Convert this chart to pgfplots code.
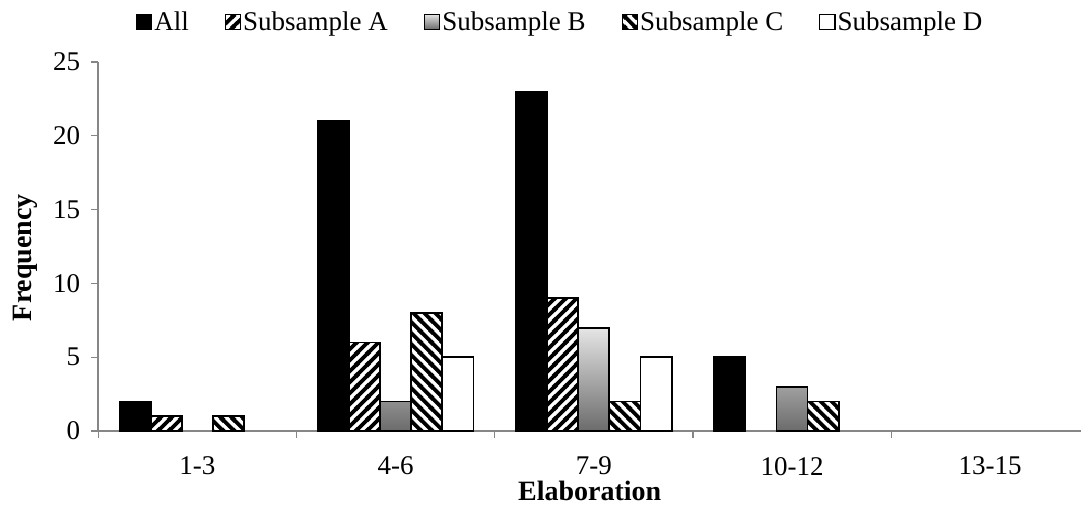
\documentclass[border=0pt]{standalone}
\usepackage{fontspec}
\setmainfont{Liberation Serif}
\usepackage{pgfplots}
\pgfplotsset{compat=1.18}
\usetikzlibrary{patterns.meta}

% thick diagonal hatching, rising and falling
\tikzdeclarepattern{
  name=wideNE, type=uncolored,
  bottom left={(0pt,0pt)}, top right={(5.3pt,5.3pt)},
  tile size={(5.3pt,5.3pt)},
  code={\draw[line width=1.9pt] (-1pt,-1pt)--(6.3pt,6.3pt)
        (-1pt,4.3pt)--(1pt,6.3pt) (4.3pt,-1pt)--(6.3pt,1pt);}
}
\tikzdeclarepattern{
  name=wideNW, type=uncolored,
  bottom left={(0pt,0pt)}, top right={(5.3pt,5.3pt)},
  tile size={(5.3pt,5.3pt)},
  code={\draw[line width=1.9pt] (-1pt,6.3pt)--(6.3pt,-1pt)
        (-1pt,1pt)--(1pt,-1pt) (4.3pt,6.3pt)--(6.3pt,4.3pt);}
}

\definecolor{axisgrey}{HTML}{868686}

\begin{document}
\begin{tikzpicture}
\begin{axis}[
  scale only axis,
  width=491.35pt, height=184.5pt,
  xmin=-0.5, xmax=4.458,
  ymin=0, ymax=25,
  ytick={0,5,...,25},
  xtick={0,1,2,3,4},
  xticklabels={1-3,4-6,7-9,10-12,13-15},
  minor xtick={-0.5,0.5,1.5,2.5,3.5},
  major x tick style={draw=none},
  minor tick length=3.5pt,
  major tick length=3.5pt,
  tick align=outside,
  axis x line*=bottom,
  axis y line*=left,
  axis line style={axisgrey, line width=0.8pt, -},
  every tick/.style={axisgrey, line width=0.6pt},
  /pgf/number format/assume math mode=true,
  tick label style={font=\fontsize{13.5}{16}\selectfont, text=black},
  xticklabel style={yshift=-6pt},
  yticklabel style={xshift=-2pt},
  xlabel={\bfseries Elaboration},
  ylabel={\bfseries Frequency},
  label style={font=\fontsize{14}{16}\selectfont},
  xlabel style={at={(rel axis cs:0.5,0)}, anchor=center, yshift=-30pt},
  ylabel style={at={(rel axis cs:0,0.47)}, anchor=center, rotate=0, yshift=36.5pt},
  ybar=0pt, bar width=0.157,
  legend columns=5,
  legend style={draw=none, fill=none,
    at={(rel axis cs:0.47,1.108)}, anchor=center,
    font=\fontsize{13.5}{16}\selectfont,
    nodes={inner sep=1pt},
    /tikz/every even column/.append style={column sep=17pt}},
  legend image code/.code={\draw[#1, line width=0.6pt] (0pt,-3.6pt) rectangle (7.6pt,4pt);},
  clip=false,
]
\addplot[draw=black, fill=black, line width=0.9pt]
  coordinates {(0,2) (1,21) (2,23) (3,5)};
\addplot[draw=black, line width=0.9pt, fill=white, pattern={wideNE}, pattern color=black]
  coordinates {(0,1) (1,6) (2,9)};
\addplot[draw=black, line width=0.9pt, top color=black!10, bottom color=black!58]
  coordinates {(1,2) (2,7) (3,3)};
\addplot[draw=black, line width=0.9pt, fill=white, pattern={wideNW}, pattern color=black]
  coordinates {(0,1) (1,8) (2,2) (3,2)};
\addplot[draw=black, fill=white, line width=0.9pt]
  coordinates {(1,5) (2,5)};
\legend{All,Subsample A,Subsample B,Subsample C,Subsample D}
\coordinate (sw) at (rel axis cs:0,0);
\coordinate (ne) at (rel axis cs:1,1);
\end{axis}
\pgfresetboundingbox
\path ([shift={(-49.15pt,-36.5pt)}]sw) rectangle ([shift={(0pt,31pt)}]ne);
\end{tikzpicture}
\end{document}
